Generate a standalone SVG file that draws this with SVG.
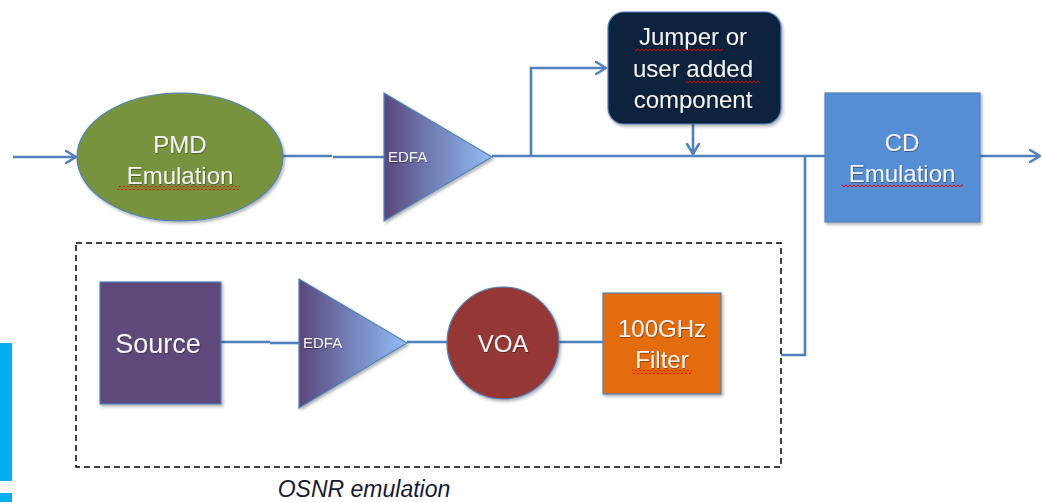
<svg xmlns="http://www.w3.org/2000/svg" width="1042" height="502" viewBox="0 0 1042 502">
<defs>
<linearGradient id="edfaGrad" x1="0" y1="0" x2="1" y2="0">
<stop offset="0" stop-color="#5B467A"/>
<stop offset="0.5" stop-color="#7484BC"/>
<stop offset="1" stop-color="#93BDF5"/>
</linearGradient>
<filter id="sh" x="-10%" y="-10%" width="125%" height="125%">
<feDropShadow dx="1.5" dy="2" stdDeviation="1.5" flood-color="#000" flood-opacity="0.3"/>
</filter>
<filter id="tsh" x="-10%" y="-20%" width="120%" height="140%">
<feDropShadow dx="0.6" dy="0.8" stdDeviation="0.4" flood-color="#000" flood-opacity="0.45"/>
</filter>
<marker id="arr" viewBox="0 0 12 14" refX="11" refY="7" markerWidth="12" markerHeight="14" markerUnits="userSpaceOnUse" orient="auto">
<path d="M1,1 L11,7 L1,13" fill="none" stroke="#4F81BD" stroke-width="2.5" stroke-linecap="round" stroke-linejoin="round"/>
</marker>
<pattern id="wave" patternUnits="userSpaceOnUse" width="4" height="4">
<path d="M0,3.2 L2,0.8 L4,3.2" fill="none" stroke="#E00000" stroke-width="0.9"/>
</pattern>
</defs>
<style>
.lbl{font-family:"Liberation Sans",Arial,sans-serif;fill:#F4F4F4;text-anchor:middle;filter:url(#tsh)}
.small{font-family:"Liberation Sans",Arial,sans-serif;fill:#F0F0F0;font-size:15px;filter:url(#tsh)}
.shape{stroke:#4F81BD;stroke-width:1.2;filter:url(#sh)}
.conn{fill:none;stroke:#4F81BD;stroke-width:2.6}
.wavy{fill:url(#wave)}
</style>
<rect width="1042" height="502" fill="#FFFFFF"/>
<!-- cyan side bar -->
<rect x="0" y="343" width="12" height="138" fill="#00B0F0"/>
<rect x="0" y="493" width="12" height="9" fill="#00B0F0"/>

<g id="connectors">
<line class="conn" x1="13" y1="157" x2="76" y2="157" marker-end="url(#arr)"/>
<line class="conn" x1="283" y1="156" x2="332" y2="156"/>
<line class="conn" x1="333" y1="157" x2="384" y2="157"/>
<line class="conn" x1="492" y1="156" x2="825" y2="156"/>
<polyline class="conn" points="531,156 531,68 606,68" marker-end="url(#arr)"/>
<line class="conn" x1="693" y1="124" x2="693" y2="154" marker-end="url(#arr)"/>
<polyline class="conn" points="805,156 805,355 781,355"/>
<line class="conn" x1="980" y1="156" x2="1040" y2="156" marker-end="url(#arr)"/>
<line class="conn" x1="221" y1="342" x2="270" y2="342"/>
<line class="conn" x1="270" y1="343" x2="299" y2="343"/>
<line class="conn" x1="407" y1="342" x2="448" y2="342"/>
<line class="conn" x1="558" y1="342" x2="603" y2="342"/>
</g>

<g id="osnr-group">
<rect x="76" y="243" width="705" height="224" fill="none" stroke="#000" stroke-width="1.5" stroke-dasharray="6,4"/>
<text x="364" y="497" font-family="'Liberation Sans',Arial,sans-serif" font-style="italic" font-size="23" fill="#141a33" text-anchor="middle">OSNR emulation</text>
</g>

<g id="pmd">
<ellipse class="shape" cx="180" cy="157" rx="103" ry="64" fill="#77933C"/>
<text class="lbl" x="180" y="153" font-size="24">PMD</text>
<text class="lbl" x="180" y="184" font-size="24">Emulation</text>
<rect class="wavy" x="118" y="186" width="122" height="4"/>
</g>

<g id="edfa1">
<polygon class="shape" points="384,93 492,157 384,221" fill="url(#edfaGrad)"/>
<text class="small" x="388" y="162">EDFA</text>
</g>

<g id="jumper">
<rect class="shape" x="608" y="12" width="173" height="112" rx="16" fill="#10243E"/>
<text class="lbl" x="693" y="45" font-size="24">Jumper or</text>
<text class="lbl" x="693" y="77" font-size="24">user added</text>
<text class="lbl" x="693" y="108" font-size="24">component</text>
<rect class="wavy" x="635" y="47" width="88" height="4"/>
<rect class="wavy" x="686" y="79" width="74" height="4"/>
</g>

<g id="cd">
<rect class="shape" x="825" y="93" width="155" height="129" fill="#558ED5"/>
<text class="lbl" x="902" y="151" font-size="24">CD</text>
<text class="lbl" x="902" y="182" font-size="24">Emulation</text>
<rect class="wavy" x="842" y="183" width="121" height="4"/>
</g>

<g id="source">
<rect class="shape" x="100" y="282" width="121" height="122" fill="#5F497A"/>
<text class="lbl" x="158" y="353" font-size="27">Source</text>
</g>

<g id="edfa2">
<polygon class="shape" points="299,279 407,343 299,408" fill="url(#edfaGrad)"/>
<text class="small" x="303" y="348">EDFA</text>
</g>

<g id="voa">
<circle class="shape" cx="503" cy="343" r="56" fill="#953735"/>
<text class="lbl" x="503" y="352" font-size="24">VOA</text>
</g>

<g id="filter">
<rect class="shape" x="603" y="293" width="118" height="101" fill="#E36C09"/>
<text class="lbl" x="662" y="337" font-size="24">100GHz</text>
<text class="lbl" x="662" y="368" font-size="24">Filter</text>
<rect class="wavy" x="632" y="370" width="60" height="4"/>
</g>
</svg>
